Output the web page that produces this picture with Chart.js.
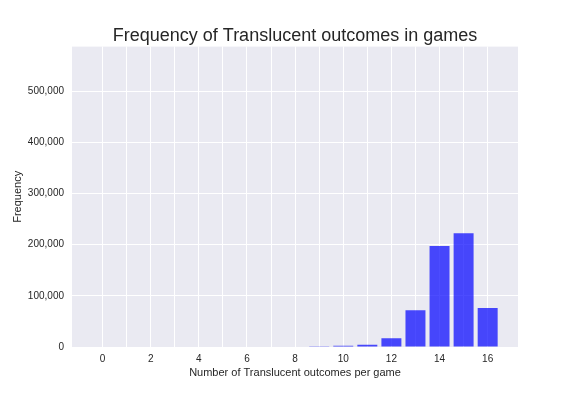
<!DOCTYPE html>
<html>
<head>
<meta charset="utf-8">
<script src="https://cdn.jsdelivr.net/npm/chart.js@4/dist/chart.umd.min.js"></script>
<style>
html,body{margin:0;padding:0;background:#fff}
#wrap{width:576px;height:396px}
</style>
</head>
<body>
<div id="wrap"><canvas id="c" width="576" height="396"></canvas></div>
<script>
// outcomes per game (0..16) and how many games had that count
const outcomes = [0,1,2,3,4,5,6,7,8,9,10,11,12,13,14,15,16];
const counts = [0,0,0,0,0,0,0,0,0,1500,2200,4300,17000,72000,197500,222500,76000];
const yTicks = [0,100000,200000,300000,400000,500000];

const plotBg = {
  id:'plotBg',
  beforeDraw(chart){
    const a = chart.chartArea, ctx = chart.ctx;
    ctx.save();
    ctx.fillStyle = '#EAEAF2';
    ctx.fillRect(a.left, a.top, a.right-a.left, a.bottom-a.top);
    ctx.restore();
  }
};

const font = 'Arial, "Liberation Sans", sans-serif';

new Chart(document.getElementById('c'), {
  type:'bar',
  data:{
    datasets:[{
      data: outcomes.map((x,i)=>({x:x, y:counts[i]})),
      backgroundColor:'rgba(0,0,255,0.7)',
      borderWidth:0,
      barPercentage:0.83,
      categoryPercentage:1
    }]
  },
  options:{
    responsive:false,
    animation:false,
    layout:{padding:{left:0,right:58,top:0,bottom:0}},
    plugins:{
      legend:{display:false},
      tooltip:{enabled:false},
      title:{
        display:true,
        text:'Frequency of Translucent outcomes in games',
        color:'#262626',
        fullSize:false,
        font:{family:font,size:18,weight:'normal'},
        padding:{top:25,bottom:0}
      }
    },
    scales:{
      x:{
        type:'linear',
        offset:false,
        min:-1.27, max:17.26,
        afterBuildTicks(s){ s.ticks = outcomes.map(v=>({value:v})); },
        afterFit(s){ s.height = 49; },
        grid:{color:'#ffffff',lineWidth:1,drawTicks:false,offset:false},
        border:{display:false},
        ticks:{
          color:'#262626',
          font:{family:font,size:10},
          padding:6,
          maxRotation:0,
          autoSkip:false,
          callback:(v)=> v%2===0 ? String(v) : ''
        },
        title:{display:true,text:'Number of Translucent outcomes per game',color:'#262626',
          font:{family:font,size:11},padding:{top:2,bottom:16}}
      },
      y:{
        min:0, max:587000,
        afterBuildTicks(s){ s.ticks = yTicks.map(v=>({value:v})); },
        afterFit(s){ s.width = 72; },
        grid:{color:'#ffffff',lineWidth:1,drawTicks:false},
        border:{display:false},
        ticks:{
          color:'#262626',
          font:{family:font,size:10},
          padding:8,
          callback:(v)=> v.toLocaleString('en-US')
        },
        title:{display:true,text:'Frequency',color:'#262626',
          font:{family:font,size:11},padding:{top:11,bottom:4}}
      }
    }
  },
  plugins:[plotBg]
});
</script>
</body>
</html>
